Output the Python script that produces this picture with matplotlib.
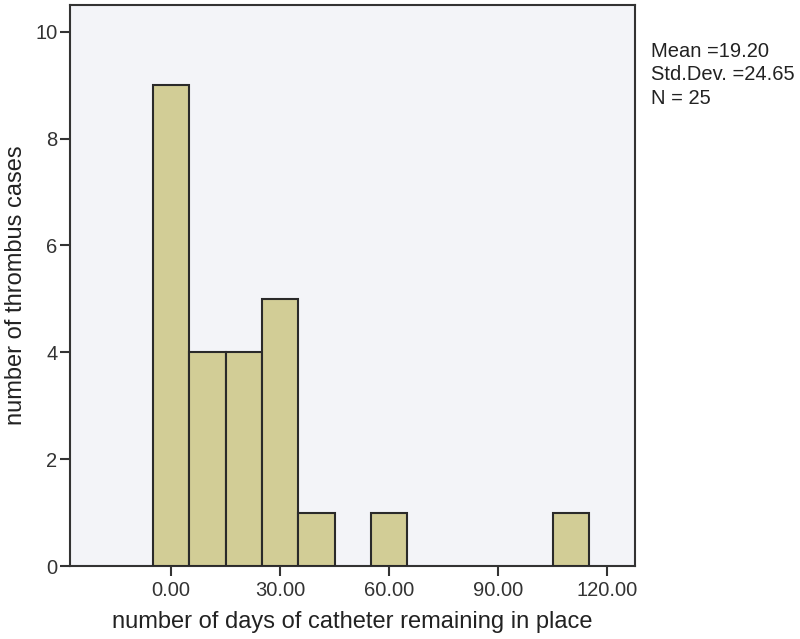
import matplotlib
matplotlib.use("Agg")
import matplotlib.pyplot as plt

bin_centers = [0, 10, 20, 30, 40, 60, 110]
counts = [9, 4, 4, 5, 1, 1, 1]
bin_width = 10
x_ticks = [0, 30, 60, 90, 120]
x_tick_labels = ["0.00", "30.00", "60.00", "90.00", "120.00"]
y_ticks = [0, 2, 4, 6, 8, 10]
stats_lines = ["Mean =19.20", "Std.Dev. =24.65", "N = 25"]

plt.rcParams['font.family'] = ['Liberation Sans', 'DejaVu Sans']

fig = plt.figure(figsize=(8, 6.39), dpi=100)
ax = fig.add_axes([0.0875, 0.1142, 0.7063, 0.878])
ax.set_facecolor('#F3F4F8')

ax.bar(bin_centers, counts, width=bin_width, color='#D2CD96',
       edgecolor='#2a2a2a', linewidth=1.5, zorder=3)

ax.set_xlim(-27.8, 127.7)
ax.set_ylim(0, 10.5)
ax.set_xticks(x_ticks)
ax.set_xticklabels(x_tick_labels)
ax.set_yticks(y_ticks)

for s in ax.spines.values():
    s.set_color('#333333')
    s.set_linewidth(1.5)

ax.tick_params(axis='both', direction='out', length=7, width=1.5,
               color='#333333', labelsize=14.5, labelcolor='#333333')
ax.tick_params(axis='y', pad=2)

ax.set_xlabel('number of days of catheter remaining in place', fontsize=17,
              color='#222222', labelpad=8)
ax.set_ylabel('number of thrombus cases', fontsize=17, color='#222222',
              labelpad=6)

fig.text(0.8135, 0.935, "\n".join(stats_lines), fontsize=14.5,
         color='#222222', va='top', ha='left', linespacing=1.3)

fig.savefig('out.png', dpi=100)
